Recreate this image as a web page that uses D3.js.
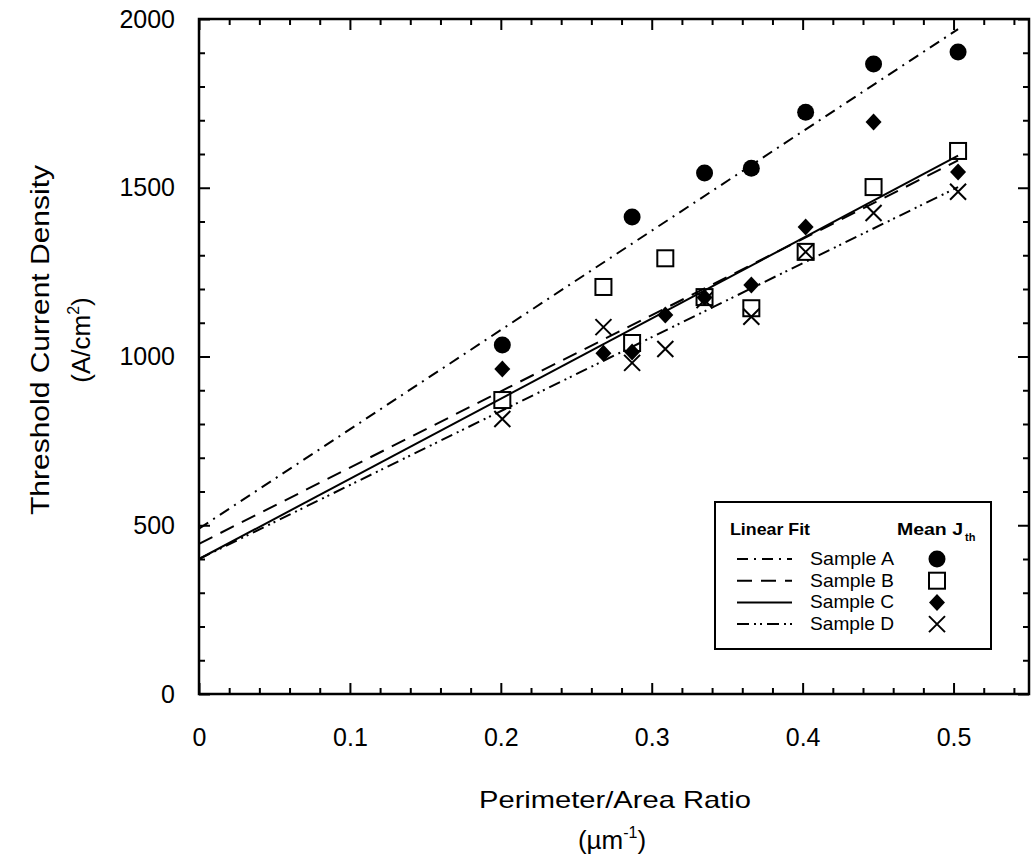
<!DOCTYPE html>
<html>
<head>
<meta charset="utf-8">
<script src="https://cdn.jsdelivr.net/npm/d3@7"></script>
<style>
  body { margin: 0; background: #fff; }
  text { font-family: "Liberation Sans", Arial, sans-serif; fill: #000; }
</style>
</head>
<body>
<script>
// perimeter / area ratio of each device group (um^-1)
const ratio = [0.201, 0.268, 0.287, 0.309, 0.335, 0.366, 0.402, 0.447, 0.503];
// mean threshold current density, A/cm^2 (null = no point)
const sampleA = [1034, null, 1413, null, 1544, 1558, 1724, 1867, 1902];
const sampleB = [871, 1206, 1040, 1291, 1176, 1143, 1310, 1502, 1609];
const sampleC = [963, 1010, 1013, 1123, 1175, 1212, 1384, 1695, 1547];
const sampleD = [815, 1087, 981, 1022, 1167, 1118, 1310, 1425, 1488];
const sampleNames = ['Sample A', 'Sample B', 'Sample C', 'Sample D'];
// linear fits: value at ratio 0 and at the end of the line
const fitX = [0, 0.503];
const fitStart = [490, 445, 400, 400];
const fitEnd = [1970, 1581, 1595, 1502];
const xMajor = [0, 0.1, 0.2, 0.3, 0.4, 0.5];
const yMajor = [0, 500, 1000, 1500, 2000];

const series = [sampleA, sampleB, sampleC, sampleD];
const dashes = ['11,6,2,6', '15,9', null, '12,5,2,4,2,5'];
const shapes = ['circle', 'square', 'diamond', 'cross'];

const svg = d3.select('body').append('svg')
  .attr('width', 1034)
  .attr('height', 867);

const x = d3.scaleLinear().domain([0, 0.55]).range([199, 1029]);
const y = d3.scaleLinear().domain([0, 2000]).range([694, 19]);

const xMinor = d3.range(0, 28).map(i => i * 0.02).filter(v => Math.abs(v * 10 - Math.round(v * 10)) > 1e-6);
const yMinor = d3.range(0, 21).map(i => i * 100).filter(v => v % 500 != 0);

// ticks on all four sides, pointing in
function tickAxes(axisFn, scale, tf, minorVals, majorVals, minorLen, majorLen, labels) {
  svg.append('g').attr('transform', tf)
    .call(axisFn(scale).tickValues(minorVals).tickSize(minorLen).tickFormat(''));
  const g = svg.append('g').attr('transform', tf)
    .call(axisFn(scale).tickValues(majorVals).tickSize(majorLen)
      .tickFormat(labels ? d3.format('') : '').tickPadding(labels ? 34 : 0));
  return g;
}
const gx = tickAxes(d3.axisBottom, x, 'translate(0,694)', xMinor, xMajor, -6, -11, true);
tickAxes(d3.axisTop, x, 'translate(0,19)', xMinor, xMajor, -6, -11, false);
const gy = tickAxes(d3.axisLeft, y, 'translate(199,0)', yMinor, yMajor, -6, -11, true);
tickAxes(d3.axisRight, y, 'translate(1029,0)', yMinor, yMajor, -6, -11, false);
svg.selectAll('.domain').remove();
svg.selectAll('.tick line').attr('stroke', '#000').attr('stroke-width', 2);
gx.selectAll('text').attr('font-size', 25).attr('font-family', 'Liberation Sans');
gy.selectAll('text').attr('font-size', 25).attr('font-family', 'Liberation Sans')
  .attr('x', -24);

svg.append('rect')
  .attr('x', 199).attr('y', 19)
  .attr('width', 1029 - 199).attr('height', 694 - 19)
  .attr('fill', 'none').attr('stroke', '#000').attr('stroke-width', 2.5);

// fit lines
const line = d3.line().x(d => x(d[0])).y(d => y(d[1]));
series.forEach((s, i) => {
  svg.append('path')
    .attr('d', line([[fitX[0], fitStart[i]], [fitX[1], fitEnd[i]]]))
    .attr('fill', 'none')
    .attr('stroke', '#000')
    .attr('stroke-width', 2)
    .attr('stroke-dasharray', dashes[i]);
});

function drawSymbol(g, shape, cx, cy) {
  if (shape == 'circle') {
    g.append('circle').attr('cx', cx).attr('cy', cy).attr('r', 8.5).attr('fill', '#000');
  } else if (shape == 'square') {
    g.append('rect').attr('x', cx - 8).attr('y', cy - 8).attr('width', 16).attr('height', 16)
      .attr('fill', 'none').attr('stroke', '#000').attr('stroke-width', 2);
  } else if (shape == 'diamond') {
    g.append('path').attr('d', `M${cx},${cy - 8.5}L${cx + 8},${cy}L${cx},${cy + 8.5}L${cx - 8},${cy}Z`)
      .attr('fill', '#000');
  } else {
    g.append('path').attr('d', `M${cx - 8},${cy - 8}L${cx + 8},${cy + 8}M${cx - 8},${cy + 8}L${cx + 8},${cy - 8}`)
      .attr('stroke', '#000').attr('stroke-width', 2).attr('fill', 'none');
  }
}

const pts = svg.append('g');
series.forEach((s, i) => {
  s.forEach((v, j) => {
    if (v != null) drawSymbol(pts, shapes[i], x(ratio[j]), y(v));
  });
});

// legend
const lg = svg.append('g');
lg.append('rect').attr('x', 715).attr('y', 502).attr('width', 276).attr('height', 147)
  .attr('fill', '#fff').attr('stroke', '#000').attr('stroke-width', 2);
lg.append('text').attr('x', 730).attr('y', 535).attr('font-size', 17).attr('font-weight', 'bold')
  .attr('textLength', 80).attr('lengthAdjust', 'spacingAndGlyphs').text('Linear Fit');
const mj = lg.append('text').attr('x', 897).attr('y', 535).attr('font-size', 17).attr('font-weight', 'bold');
mj.append('tspan').attr('textLength', 66).attr('lengthAdjust', 'spacingAndGlyphs').text('Mean J');
mj.append('tspan').attr('font-size', 11).attr('dy', 6).attr('dx', 2).text('th');
sampleNames.forEach((name, i) => {
  const yy = 565 + i * 21.7;
  lg.append('line').attr('x1', 737).attr('x2', 792).attr('y1', yy - 6).attr('y2', yy - 6)
    .attr('stroke', '#000').attr('stroke-width', 2).attr('stroke-dasharray', dashes[i]);
  lg.append('text').attr('x', 810).attr('y', yy).attr('font-size', 19)
    .attr('textLength', 84).attr('lengthAdjust', 'spacingAndGlyphs').text(name);
  drawSymbol(lg, shapes[i], 937, yy - 6);
});

// axis titles
const yt = svg.append('g').attr('transform', 'translate(49,340) rotate(-90)');
yt.append('text').attr('text-anchor', 'middle').attr('font-size', 25)
  .attr('textLength', 350).attr('lengthAdjust', 'spacingAndGlyphs').text('Threshold Current Density');
const yu = yt.append('text').attr('y', 41).attr('text-anchor', 'middle').attr('font-size', 26);
yu.append('tspan').text('(A/cm');
yu.append('tspan').attr('font-size', 16).attr('dy', -11).text('2');
yu.append('tspan').attr('dy', 11).text(')');

svg.append('text').attr('x', 615).attr('y', 808).attr('text-anchor', 'middle').attr('font-size', 24)
  .attr('textLength', 272).attr('lengthAdjust', 'spacingAndGlyphs').text('Perimeter/Area Ratio');
const xu = svg.append('text').attr('x', 612).attr('y', 849).attr('text-anchor', 'middle').attr('font-size', 26);
xu.append('tspan').text('(\u00b5m');
xu.append('tspan').attr('font-size', 16).attr('dy', -11).text('-1');
xu.append('tspan').attr('dy', 11).text(')');
</script>
</body>
</html>
